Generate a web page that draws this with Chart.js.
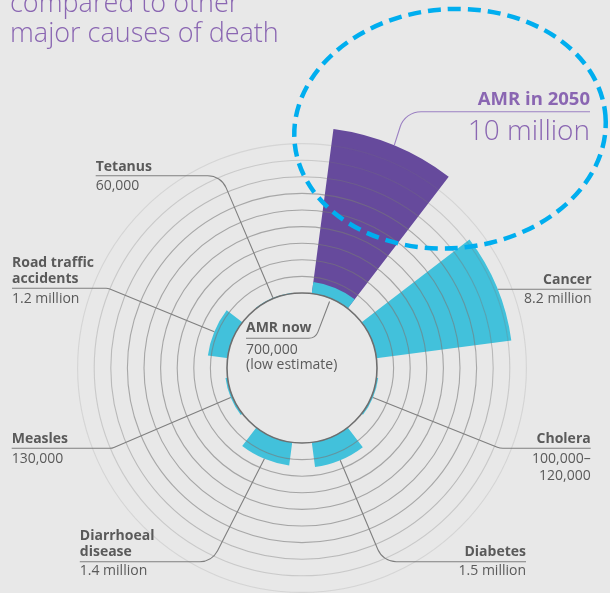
<!DOCTYPE html>
<html>
<head>
<meta charset="utf-8">
<script src="https://cdn.jsdelivr.net/npm/chart.js@4.4.1/dist/chart.umd.min.js"></script>
<style>
  html, body { margin: 0; padding: 0; background: #e8e8e8; overflow: hidden; }
  #stage { position: relative; width: 610px; height: 593px; overflow: hidden; font-family: "Open Sans", sans-serif; }
  #chart { position: absolute; left: 0; top: 0; }
  .t { position: absolute; white-space: nowrap; line-height: 1; color: #5a5a5a; }
</style>
</head>
<body>
<div id="stage">
  <canvas id="chart" width="610" height="640"></canvas>
</div>
<script>
// ---------------- data (deaths per year, millions) ----------------
const categories = ['AMR now', 'Cancer', 'Cholera', 'Diabetes', 'Diarrhoeal disease', 'Measles', 'Road traffic accidents', 'Tetanus'];
const deathsNow = [0.7, 8.2, 0.11, 1.5, 1.4, 0.13, 1.2, 0.06];
const deaths2050 = [10, 0, 0, 0, 0, 0, 0, 0];
const nameLines = [['AMR now'], ['Cancer'], ['Cholera'], ['Diabetes'], ['Diarrhoeal', 'disease'], ['Measles'], ['Road traffic', 'accidents'], ['Tetanus']];
const valueLines = [['700,000', '(low estimate)'], ['8.2 million'], ['100,000–', '120,000'], ['1.5 million'], ['1.4 million'], ['130,000'], ['1.2 million'], ['60,000']];
const amr2050Label = 'AMR in 2050';
const amr2050Value = '10 million';
const titleLines = ['compared to other', 'major causes of death'];
const rings = [0, 1, 2, 3, 4, 5, 6, 7, 8, 9];

// ---------------- look ----------------
const CYAN = '#42c1db';
const PURPLE = '#664a9c';
const BG = '#e8e8e8';
const INNER_R = 75;      // px, radius of the empty middle
const RING_STEP = 16.6;  // px per million
const SLICE_DEG = 30, GAP_DEG = 15;

// label placement: x, align, baselines of the name + value rows, leader line
const callouts = [
  { x: 246, align: 'left', names: [332.7], values: [354.7, 369.5], lineY: 338.3, corner: [315.5, 338.3], round: 10, inside: true },
  { x: 591.5, align: 'right', names: [284], values: [303.3], lineY: 289.3, corner: null },
  { x: 590.7, align: 'right', names: [443.3], values: [463, 480], lineY: 448.3, corner: [500, 448.3], round: 15 },
  { x: 526, align: 'right', names: [556], values: [575], lineY: 561.7, corner: [383, 561.7], round: 20 },
  { x: 79.8, align: 'left', names: [540, 556], values: [575], lineY: 561.7, corner: [212, 561.7], round: 20 },
  { x: 11.7, align: 'left', names: [443.3], values: [463], lineY: 448.3, corner: [112, 448.3], round: 10 },
  { x: 12, align: 'left', names: [267, 283.5], values: [303], lineY: 288.3, corner: [108, 288.3], round: 10 },
  { x: 95.7, align: 'left', names: [171], values: [190], lineY: 175.7, corner: [221, 175.7], round: 20 }
];

//----------------------------------- slices + gaps -----------------------------------//
// every category gets a 30deg slice, followed by a 15deg empty wedge
const sliceLabels = [], nowData = [], futureData = [], sliceAngles = [], nowColors = [], futureColors = [];
categories.forEach((c, i) => {
  sliceLabels.push(c, '');
  nowData.push(deathsNow[i], 0);
  futureData.push(deaths2050[i], 0);
  sliceAngles.push(SLICE_DEG, GAP_DEG);
  nowColors.push(CYAN, 'rgba(0,0,0,0)');
  futureColors.push(deaths2050[i] > 0 ? PURPLE : 'rgba(0,0,0,0)', 'rgba(0,0,0,0)');
});

function ringColor(v) {
  if (v === 0) return '#6e6e6e';
  if (!rings.includes(v)) return 'rgba(0,0,0,0)';
  const alpha = [0, 0.6, 0.6, 0.6, 0.6, 0.6, 0.58, 0.42, 0.27, 0.17][v];
  return `rgba(120,120,120,${alpha})`;
}

//----------------------------------- text on top -----------------------------------//
const stage = document.getElementById('stage');
function addText(str, x, baseline, align, size, weight, color) {
  const d = document.createElement('div');
  d.className = 't';
  d.textContent = str;
  d.style.fontSize = size + 'px';
  d.style.fontWeight = weight;
  if (color) d.style.color = color;
  d.style.top = (baseline - 0.888 * size) + 'px';
  if (align === 'right') d.style.right = (610 - x) + 'px';
  else d.style.left = x + 'px';
  stage.appendChild(d);
}

addText(titleLines[0], 10, 11.5, 'left', 27, 300, '#8a66b2');
addText(titleLines[1], 10, 41.7, 'left', 27, 300, '#8a66b2');
addText(amr2050Label, 590, 105, 'right', 18.5, 700, '#8a66b2');
addText(amr2050Value, 590, 140, 'right', 28, 300, '#8a66b2');

callouts.forEach((c, i) => {
  nameLines[i].forEach((s, k) => addText(s, c.x, c.names[k], c.align, 14, 700));
  valueLines[i].forEach((s, k) => addText(s, c.x, c.values[k], c.align, 14, 400));
});

//----------------------------------- plugin: middle disc, leaders, ellipse -----------------------------------//
const overlay = {
  id: 'overlay',
  afterDatasetsDraw(chart) {
    const r = chart.scales.r;
    const ctx = chart.ctx;
    ctx.save();
    ctx.beginPath();
    ctx.arc(r.xCenter, r.yCenter, r.getDistanceFromCenterForValue(0), 0, Math.PI * 2);
    ctx.fillStyle = BG;
    ctx.fill();
    ctx.restore();
  },
  afterDraw(chart) {
    const r = chart.scales.r;
    const ctx = chart.ctx;
    const nowArcs = chart.getDatasetMeta(0).data;
    const futureArcs = chart.getDatasetMeta(1).data;

    ctx.save();
    ctx.lineWidth = 1.1;
    ctx.strokeStyle = '#7f7f7f';
    callouts.forEach((c, i) => {
      const arc = nowArcs[i * 2];
      const mid = (arc.startAngle + arc.endAngle) / 2;
      const rad = c.inside ? r.getDistanceFromCenterForValue(0) - 3 : arc.outerRadius;
      ctx.beginPath();
      if (!c.corner) {
        // straight line that just touches the outer edge of the slice
        const dy = r.yCenter - c.lineY;
        const ex = r.xCenter + Math.sqrt(arc.outerRadius * arc.outerRadius - dy * dy);
        ctx.moveTo(c.x, c.lineY);
        ctx.lineTo(ex, c.lineY);
      } else {
        const tx = arc.x + rad * Math.cos(mid);
        const ty = arc.y + rad * Math.sin(mid);
        ctx.moveTo(c.x, c.lineY);
        ctx.arcTo(c.corner[0], c.corner[1], tx, ty, c.round);
        ctx.lineTo(tx, ty);
      }
      ctx.stroke();
    });

    // AMR in 2050 leader
    const fa = futureArcs[0];
    const fm = (fa.startAngle + fa.endAngle) / 2;
    const fx = fa.x + fa.outerRadius * Math.cos(fm);
    const fy = fa.y + fa.outerRadius * Math.sin(fm);
    ctx.strokeStyle = '#9b80c2';
    ctx.beginPath();
    ctx.moveTo(590, 111.7);
    ctx.arcTo(405, 111.7, fx, fy, 22);
    ctx.lineTo(fx, fy);
    ctx.stroke();

    // dashed highlight ellipse
    ctx.strokeStyle = '#00aeef';
    ctx.lineWidth = 4.5;
    ctx.setLineDash([13, 7]);
    ctx.beginPath();
    ctx.ellipse(450, 128.7, 156, 119.5, -5 * Math.PI / 180, 0, Math.PI * 2);
    ctx.stroke();
    ctx.restore();
  }
};

//----------------------------------- chart -----------------------------------//
const scaleMin = -INNER_R / RING_STEP;
const scaleMax = (260 - INNER_R) / RING_STEP;

new Chart(document.getElementById('chart'), {
  type: 'polarArea',
  data: {
    labels: sliceLabels,
    datasets: [
      { label: 'Now', data: nowData, backgroundColor: nowColors, borderWidth: 0, angle: sliceAngles },
      { label: '2050', data: futureData, backgroundColor: futureColors, borderWidth: 0, angle: sliceAngles }
    ]
  },
  options: {
    responsive: false,
    animation: false,
    events: [],
    layout: { padding: { left: 42, right: 48, top: 108.5, bottom: 11.5 } },
    plugins: { legend: { display: false }, tooltip: { enabled: false } },
    scales: {
      r: {
        min: scaleMin,
        max: scaleMax,
        startAngle: GAP_DEG / 2,
        ticks: { display: false, stepSize: 1 },
        pointLabels: { display: false },
        angleLines: { display: false },
        grid: {
          z: 1,
          circular: true,
          color: ctx => ringColor(ctx.tick.value),
          lineWidth: ctx => ctx.tick.value === 0 ? 1.6 : 1.1
        }
      }
    }
  },
  plugins: [overlay]
});
</script>
</body>
</html>
